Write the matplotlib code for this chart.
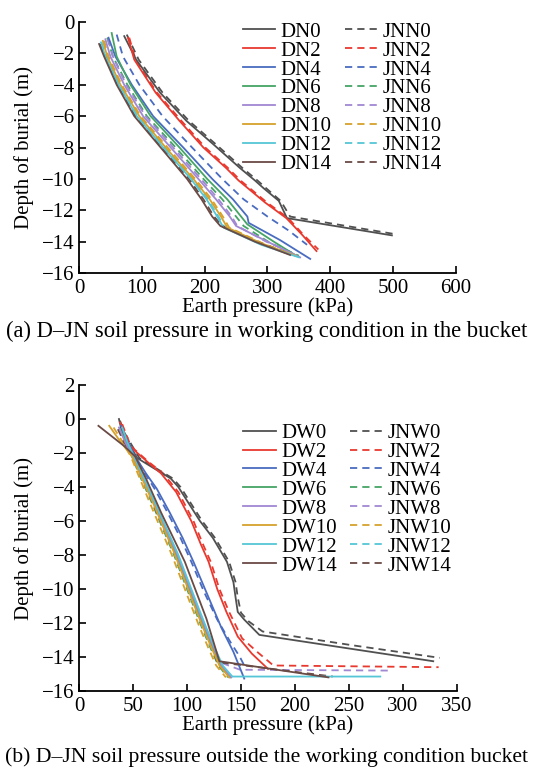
import matplotlib
matplotlib.use("Agg")
import matplotlib.pyplot as plt

plt.rcParams["font.family"] = ["Liberation Serif", "DejaVu Serif"]
plt.rcParams["axes.unicode_minus"] = True

# ---- (a) inside the bucket: earth pressure (kPa) vs depth (m) ----
dn0_p = [72, 91, 129, 171, 214, 256, 280, 294, 318, 331, 498]
dn0_d = [-0.9, -2.4, -4.5, -6.3, -7.8, -9.3, -10.1, -10.6, -11.4, -12.5, -13.6]
jnn0_p = [76, 95, 133, 175, 218, 260, 284, 298, 321, 336, 500]
jnn0_d = [-0.8, -2.4, -4.5, -6.3, -7.8, -9.3, -10.1, -10.6, -11.4, -12.4, -13.5]
dn2_p = [78, 88, 122, 160, 198, 234, 254, 296, 330, 356, 378]
dn2_d = [-1.0, -2.4, -4.5, -6.3, -8.0, -9.3, -10.1, -11.5, -12.5, -13.6, -14.6]
jnn2_p = [80, 90, 124, 163, 201, 237, 257, 299, 333, 358, 381]
jnn2_d = [-1.0, -2.4, -4.5, -6.3, -8.0, -9.3, -10.1, -11.5, -12.5, -13.6, -14.5]
dn4_p = [47, 58, 84, 118, 166, 212, 245, 268, 270, 320, 368]
dn4_d = [-1.0, -2.2, -4.0, -6.0, -8.0, -10.0, -11.3, -12.4, -12.8, -13.9, -15.1]
jnn4_p = [60, 70, 96, 133, 180, 228, 262, 300, 334, 363]
jnn4_d = [-0.8, -2.2, -4.0, -6.0, -8.0, -10.0, -11.3, -12.4, -13.3, -14.2]
dn6_p = [52, 60, 82, 114, 160, 204, 236, 258, 268, 310, 342]
dn6_d = [-0.7, -2.2, -4.0, -6.0, -8.0, -10.0, -11.3, -12.4, -12.9, -14.0, -14.8]
jnn6_p = [45, 54, 77, 108, 154, 198, 228, 250, 262, 305, 350]
jnn6_d = [-1.0, -2.2, -4.0, -6.0, -8.0, -10.0, -11.3, -12.4, -13.0, -14.1, -14.9]
dn8_p = [42, 50, 72, 102, 146, 190, 218, 240, 250, 300, 352]
dn8_d = [-1.1, -2.2, -4.0, -6.0, -8.0, -10.0, -11.3, -12.4, -13.0, -14.0, -15.0]
jnn8_p = [46, 54, 75, 106, 150, 194, 222, 243, 252, 298, 345]
jnn8_d = [-1.1, -2.2, -4.0, -6.0, -8.0, -10.0, -11.3, -12.4, -13.0, -14.0, -14.8]
dn10_p = [38, 45, 66, 96, 138, 182, 208, 226, 236, 290, 345]
dn10_d = [-1.2, -2.2, -4.0, -6.0, -8.0, -10.0, -11.3, -12.4, -13.1, -14.1, -14.9]
jnn10_p = [40, 47, 68, 98, 141, 185, 211, 229, 239, 292, 338]
jnn10_d = [-1.2, -2.2, -4.0, -6.0, -8.0, -10.0, -11.3, -12.4, -13.1, -14.1, -14.8]
dn12_p = [35, 42, 63, 92, 134, 178, 203, 220, 230, 290, 350]
dn12_d = [-1.3, -2.2, -4.0, -6.0, -8.0, -10.0, -11.3, -12.4, -13.1, -14.2, -15.0]
jnn12_p = [36, 43, 64, 93, 136, 180, 205, 222, 232, 292, 346]
jnn12_d = [-1.3, -2.2, -4.0, -6.0, -8.0, -10.0, -11.3, -12.4, -13.1, -14.2, -14.9]
dn14_p = [32, 40, 60, 88, 130, 172, 195, 212, 225, 280, 336]
dn14_d = [-1.4, -2.2, -4.0, -6.0, -8.0, -10.0, -11.3, -12.4, -13.0, -14.0, -14.85]
jnn14_p = [34, 42, 62, 90, 132, 175, 198, 215, 228, 283, 338]
jnn14_d = [-1.4, -2.2, -4.0, -6.0, -8.0, -10.0, -11.3, -12.4, -13.0, -14.0, -14.8]

# ---- (b) outside the bucket ----
dw0_p = [37, 40, 54, 72, 85, 92, 100, 112, 124, 137, 143, 145, 147, 153, 167, 250, 328]
dw0_d = [0.0, -0.8, -2.3, -3.0, -3.5, -4.0, -4.8, -6.0, -7.0, -8.4, -9.6, -10.5, -11.35, -11.8, -12.7, -13.5, -14.25]
jnw0_p = [38, 42, 56, 74, 87, 94, 102, 114, 126, 139, 145, 147, 150, 157, 170, 252, 334]
jnw0_d = [-0.1, -0.8, -2.3, -3.0, -3.5, -4.0, -4.8, -6.0, -7.0, -8.4, -9.6, -10.5, -11.4, -11.9, -12.5, -13.3, -14.05]
dw2_p = [38, 47, 63, 76, 90, 104, 113, 120, 128, 136.5, 147, 160, 175]
dw2_d = [-0.2, -1.6, -2.5, -3.2, -4.3, -6.0, -7.4, -8.4, -10.0, -11.35, -12.8, -13.8, -14.7]
jnw2_p = [40, 48, 64, 78, 92, 106, 115, 122, 130, 139, 151, 165, 180, 333]
jnw2_d = [-0.3, -1.6, -2.5, -3.2, -4.3, -6.0, -7.4, -8.4, -10.0, -11.35, -12.9, -13.7, -14.5, -14.6]
dw4_p = [39, 44, 52, 62, 72, 84, 96, 106, 118, 132, 143, 153]
dw4_d = [-0.4, -1.2, -2.2, -3.2, -4.1, -5.5, -7.0, -8.4, -10.2, -12.3, -13.7, -15.27]
jnw4_p = [40, 45, 52, 61, 70, 82, 94, 104, 116, 128, 140, 149, 153]
jnw4_d = [-0.6, -1.3, -2.2, -3.2, -4.1, -5.5, -7.0, -8.4, -10.2, -11.8, -13.1, -14.0, -14.5]
dw6_p = [38, 44, 50, 58, 70, 90, 108, 116, 124, 131, 140]
dw6_d = [-0.6, -1.4, -2.2, -3.3, -5.0, -8.0, -11.0, -12.3, -13.5, -14.5, -15.2]
jnw6_p = [37, 43, 49, 56, 68, 88, 106, 114, 122, 129, 138]
jnw6_d = [-0.6, -1.4, -2.2, -3.3, -5.0, -8.0, -11.0, -12.3, -13.5, -14.5, -15.2]
dw8_p = [37, 43, 50, 58, 70, 91, 109, 117, 125, 132, 141]
dw8_d = [-0.5, -1.4, -2.2, -3.3, -5.0, -8.0, -11.0, -12.3, -13.5, -14.5, -15.2]
jnw8_p = [38, 44, 50, 57, 69, 89, 107, 115, 123, 130, 149, 288]
jnw8_d = [-0.5, -1.4, -2.2, -3.3, -5.0, -8.0, -11.0, -12.3, -13.5, -14.3, -14.75, -14.8]
dw10_p = [28, 38, 49, 57, 69, 89, 107, 115, 123, 130, 139]
dw10_d = [-0.4, -1.3, -2.2, -3.3, -5.0, -8.0, -11.0, -12.3, -13.5, -14.5, -15.2]
jnw10_p = [32, 40, 48, 55, 66, 86, 104, 112, 120, 127, 136]
jnw10_d = [-0.5, -1.3, -2.2, -3.3, -5.0, -8.0, -11.0, -12.3, -13.5, -14.5, -15.2]
dw12_p = [40, 45, 51, 59, 71, 92, 110, 118, 126, 133, 142, 279]
dw12_d = [-0.5, -1.4, -2.2, -3.3, -5.0, -8.0, -11.0, -12.3, -13.5, -14.5, -15.15, -15.15]
jnw12_p = [39, 44, 50, 57, 69, 89, 107, 115, 123, 131, 140]
jnw12_d = [-0.5, -1.4, -2.2, -3.3, -5.0, -8.0, -11.0, -12.3, -13.5, -14.5, -15.2]
dw14_p = [18, 30, 42, 52, 62, 76, 98, 118, 130, 231]
dw14_d = [-0.4, -1.0, -1.6, -2.2, -3.5, -5.5, -8.4, -11.75, -14.25, -15.2]
jnw14_p = [36, 42, 50, 58, 72, 93, 112, 124, 128, 235]
jnw14_d = [-0.6, -1.4, -2.2, -3.3, -5.5, -8.4, -11.5, -13.6, -14.3, -15.15]

colors = ["#505050", "#e8392f", "#4a6cc0", "#45a466", "#a088d2",
          "#d6a12c", "#55c6d6", "#6a4a44"]
stations = ["0", "2", "4", "6", "8", "10", "12", "14"]

top_solid = [(dn0_p, dn0_d), (dn2_p, dn2_d), (dn4_p, dn4_d), (dn6_p, dn6_d),
             (dn8_p, dn8_d), (dn10_p, dn10_d), (dn12_p, dn12_d), (dn14_p, dn14_d)]
top_dash = [(jnn0_p, jnn0_d), (jnn2_p, jnn2_d), (jnn4_p, jnn4_d), (jnn6_p, jnn6_d),
            (jnn8_p, jnn8_d), (jnn10_p, jnn10_d), (jnn12_p, jnn12_d), (jnn14_p, jnn14_d)]
bot_solid = [(dw0_p, dw0_d), (dw2_p, dw2_d), (dw4_p, dw4_d), (dw6_p, dw6_d),
             (dw8_p, dw8_d), (dw10_p, dw10_d), (dw12_p, dw12_d), (dw14_p, dw14_d)]
bot_dash = [(jnw0_p, jnw0_d), (jnw2_p, jnw2_d), (jnw4_p, jnw4_d), (jnw6_p, jnw6_d),
            (jnw8_p, jnw8_d), (jnw10_p, jnw10_d), (jnw12_p, jnw12_d), (jnw14_p, jnw14_d)]

FS = 15
LW = 1.3


def draw_panel(ax, solid, dash, solid_name, dash_name, xmax, xstep, ymax, leg_y):
    for (p, d), c, s in zip(dash, colors, stations):
        ax.plot(p, d, color=c, lw=LW, ls=(0, (4, 2.8)), label=dash_name + s)
    for (p, d), c, s in zip(solid, colors, stations):
        ax.plot(p, d, color=c, lw=LW, label=solid_name + s)

    ax.set_xlim(0, xmax)
    ax.set_ylim(-16, ymax)
    ax.set_xticks(range(0, xmax + 1, xstep))
    ax.set_yticks(range(-16, ymax + 1, 2))
    ax.spines["top"].set_visible(False)
    ax.spines["right"].set_visible(False)
    ax.spines["left"].set_linewidth(1.3)
    ax.spines["bottom"].set_linewidth(1.3)
    ax.tick_params(direction="in", length=5, width=1.2, labelsize=FS)
    ax.tick_params(axis="x", pad=4)
    ax.tick_params(axis="y", pad=3)
    ax.set_xlabel("Earth pressure (kPa)", fontsize=FS, labelpad=0)
    ax.set_ylabel("Depth of burial (m)", fontsize=FS, labelpad=6)

    handles, labels = ax.get_legend_handles_labels()
    # solids first column, dashed second column
    order = list(range(8, 16)) + list(range(0, 8))
    ax.legend([handles[i] for i in order], [labels[i] for i in order],
              ncol=2, loc="upper left", bbox_to_anchor=(0.435, leg_y),
              frameon=False, fontsize=FS, handlelength=1.55, handletextpad=0.25,
              columnspacing=0.65, labelspacing=-0.03, borderpad=0, borderaxespad=0)


fig = plt.figure(figsize=(5.33, 7.73), dpi=100)
ax1 = fig.add_axes([0.1482, 0.6468, 0.7073, 0.3247])
ax2 = fig.add_axes([0.1482, 0.1061, 0.7092, 0.3958])

draw_panel(ax1, top_solid, top_dash, "DN", "JNN", 600, 100, 0, 1.0)
draw_panel(ax2, bot_solid, bot_dash, "DW", "JNW", 350, 50, 2, 0.875)

fig.text(0.5, 0.571, "(a) D\u2013JN soil pressure in working condition in the bucket",
         ha="center", va="center", fontsize=16.3)
fig.text(0.5, 0.021, "(b) D\u2013JN soil pressure outside the working condition bucket",
         ha="center", va="center", fontsize=15.6)

fig.savefig("out.png", dpi=100, facecolor="white")
